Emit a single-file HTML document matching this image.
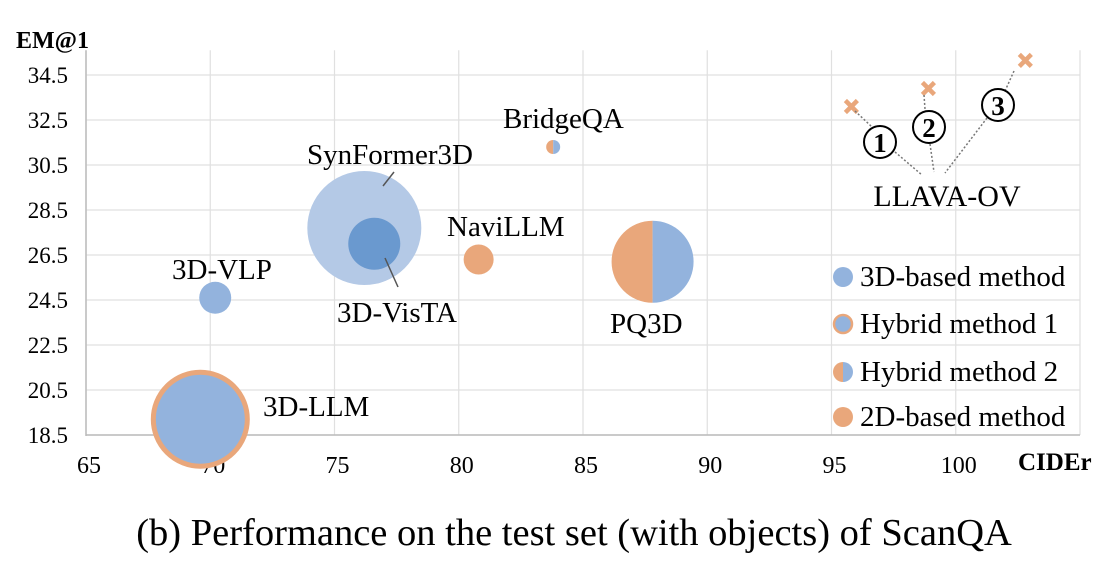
<!DOCTYPE html>
<html><head><meta charset="utf-8"><style>
body{margin:0;background:#fff;}
svg text{font-family:"Liberation Serif",serif;fill:#000;}
</style></head><body>
<svg width="1102" height="574" viewBox="0 0 1102 574" id="chart">
<g id="grid"></g><g id="marks"></g>
<g>
<text x="263" y="416" font-size="29">3D-LLM</text>
<text x="172" y="279" font-size="29">3D-VLP</text>
<text x="307" y="164" font-size="29">SynFormer3D</text>
<line x1="394" y1="172" x2="383" y2="186" stroke="#555" stroke-width="1.5"/>
<text x="337" y="322" font-size="29">3D-VisTA</text>
<line x1="385" y1="258" x2="398" y2="287" stroke="#555" stroke-width="1.5"/>
<text x="447" y="236" font-size="29">NaviLLM</text>
<text x="503" y="128" font-size="29">BridgeQA</text>
<text x="610" y="333" font-size="29">PQ3D</text>
<text x="947" y="206" font-size="30" text-anchor="middle">LLAVA-OV</text>
<g stroke="#777" stroke-width="1.5" stroke-dasharray="2,2" fill="none">
<line x1="855" y1="111" x2="872" y2="127"/><line x1="895" y1="152" x2="922" y2="175"/>
<line x1="924" y1="95" x2="925" y2="109"/><line x1="930" y1="144" x2="934" y2="172"/>
<line x1="1014" y1="71" x2="1005" y2="91"/><line x1="987" y1="118" x2="945" y2="173"/>
</g>
<g fill="#fff" stroke="#000" stroke-width="2">
<circle cx="880" cy="142" r="16"/><circle cx="929" cy="127" r="16"/><circle cx="998" cy="105" r="16"/>
</g>
<text x="880" y="152" font-size="27" font-weight="bold" text-anchor="middle">1</text>
<text x="929" y="137" font-size="27" font-weight="bold" text-anchor="middle">2</text>
<text x="998" y="115" font-size="27" font-weight="bold" text-anchor="middle">3</text>
</g>
<g>
<circle cx="843" cy="277" r="10" fill="#93B3DD"/>
<circle cx="843" cy="324" r="9" fill="#93B3DD" stroke="#E9A77B" stroke-width="2.5"/>
<path d="M843,362A10,10 0 0 0 843,382Z" fill="#E9A77B"/><path d="M843,362A10,10 0 0 1 843,382Z" fill="#93B3DD"/>
<circle cx="843" cy="417" r="10" fill="#E9A77B"/>
<text x="860" y="286" font-size="29">3D-based method</text>
<text x="860" y="333" font-size="29">Hybrid method 1</text>
<text x="860" y="381" font-size="29">Hybrid method 2</text>
<text x="860" y="426" font-size="29">2D-based method</text>
</g>
<text x="16" y="48" font-size="24" font-weight="bold">EM@1</text>
<text x="1018" y="470" font-size="25" font-weight="bold">CIDEr</text>
<text x="574" y="545" font-size="38.5" text-anchor="middle">(b) Performance on the test set (with objects) of ScanQA</text>
</svg>
<script>
const xTicks=[65,70,75,80,85,90,95,100,105];
const xTickLabels=["65","70","75","80","85","90","95","100",""];
const yTicks=[18.5,20.5,22.5,24.5,26.5,28.5,30.5,32.5,34.5];
const yTickLabels=["18.5","20.5","22.5","24.5","26.5","28.5","30.5","32.5","34.5"];
const methods=["3D-LLM","3D-VLP","SynFormer3D","3D-VisTA","NaviLLM","BridgeQA","PQ3D"];
const cider=[69.6,70.2,76.2,76.6,80.8,83.8,87.8];
const em=[19.2,24.6,27.7,27.0,26.3,31.3,26.2];
const sizes=[47,16,57,26,15,7,41];
const types=["hybrid1","3d","3d-light","3d-dark","2d","hybrid2","hybrid2"];
const llavaCider=[95.8,98.9,102.8];
const llavaEm=[33.1,33.9,35.15];
const llavaNames=["1","2","3"];

const NS="http://www.w3.org/2000/svg";
const X0=86,PX=24.85,Y0=435,PY=22.5;
const xs=v=>X0+(v-65)*PX, ys=v=>Y0-(v-18.5)*PY;
const BLUE="#93B3DD",LBLUE="#B4C9E6",DBLUE="#6A99CF",OR="#E9A77B";
function el(t,a,p,txt){const e=document.createElementNS(NS,t);for(const k in a)e.setAttribute(k,a[k]);if(txt!==undefined)e.textContent=txt;document.getElementById(p).appendChild(e);return e;}
const topY=ys(35.6);
xTicks.forEach((v,i)=>{
 const l=el('line',{x1:xs(v),x2:xs(v),y1:topY,y2:Y0,stroke:'#e0e0e0','stroke-width':1.2},'grid');
 
 
 if(xTickLabels[i]){const t=el('text',{x:xs(v)+3,y:473,'font-size':24,'text-anchor':'middle'},'grid',xTickLabels[i]);
 
 }
});
yTicks.forEach((v,i)=>{
 const l=el('line',{x1:X0,x2:xs(105),y1:ys(v),y2:ys(v),stroke:'#e0e0e0','stroke-width':1.2},'grid');
 
 
 const t=el('text',{x:68,y:ys(v)+8,'font-size':23,'text-anchor':'end'},'grid',yTickLabels[i]);
 
 
});
const ax=el('line',{x1:X0,x2:X0,y1:topY,y2:Y0+1,stroke:'#bbb','stroke-width':1.5},'grid');


const ax2=el('line',{x1:X0,x2:xs(105),y1:Y0,y2:Y0,stroke:'#bbb','stroke-width':1.5},'grid');



function halfBubble(cx,cy,r,name){
 const g=el('g',{},'marks');
 
 
 const a=document.createElementNS(NS,'path');a.setAttribute('d',`M${cx},${cy-r}A${r},${r} 0 0 0 ${cx},${cy+r}Z`);a.setAttribute('fill',OR);g.appendChild(a);
 const b=document.createElementNS(NS,'path');b.setAttribute('d',`M${cx},${cy-r}A${r},${r} 0 0 1 ${cx},${cy+r}Z`);b.setAttribute('fill',BLUE);g.appendChild(b);
}
methods.forEach((m,i)=>{
 const cx=xs(cider[i]),cy=ys(em[i]),r=sizes[i];
 const nm='bubble-'+m.toLowerCase();
 if(types[i]==='hybrid2'){halfBubble(cx,cy,r,nm);return;}
 let attrs={cx:cx,cy:cy,r:r,fill:BLUE};
 if(types[i]==='hybrid1')attrs={cx:cx,cy:cy,r:r,fill:BLUE,stroke:OR,'stroke-width':5};
 if(types[i]==='3d-light')attrs.fill=LBLUE;
 if(types[i]==='3d-dark')attrs.fill=DBLUE;
 if(types[i]==='2d')attrs.fill=OR;
 const c=el('circle',attrs,'marks');
 
 
});
llavaCider.forEach((v,i)=>{
 const cx=xs(v),cy=ys(llavaEm[i]);
 const p=el('path',{d:`M${cx-6},${cy-6}L${cx+6},${cy+6}M${cx+6},${cy-6}L${cx-6},${cy+6}`,stroke:OR,'stroke-width':4.5},'marks');
 
 
});
</script>
</body></html>
